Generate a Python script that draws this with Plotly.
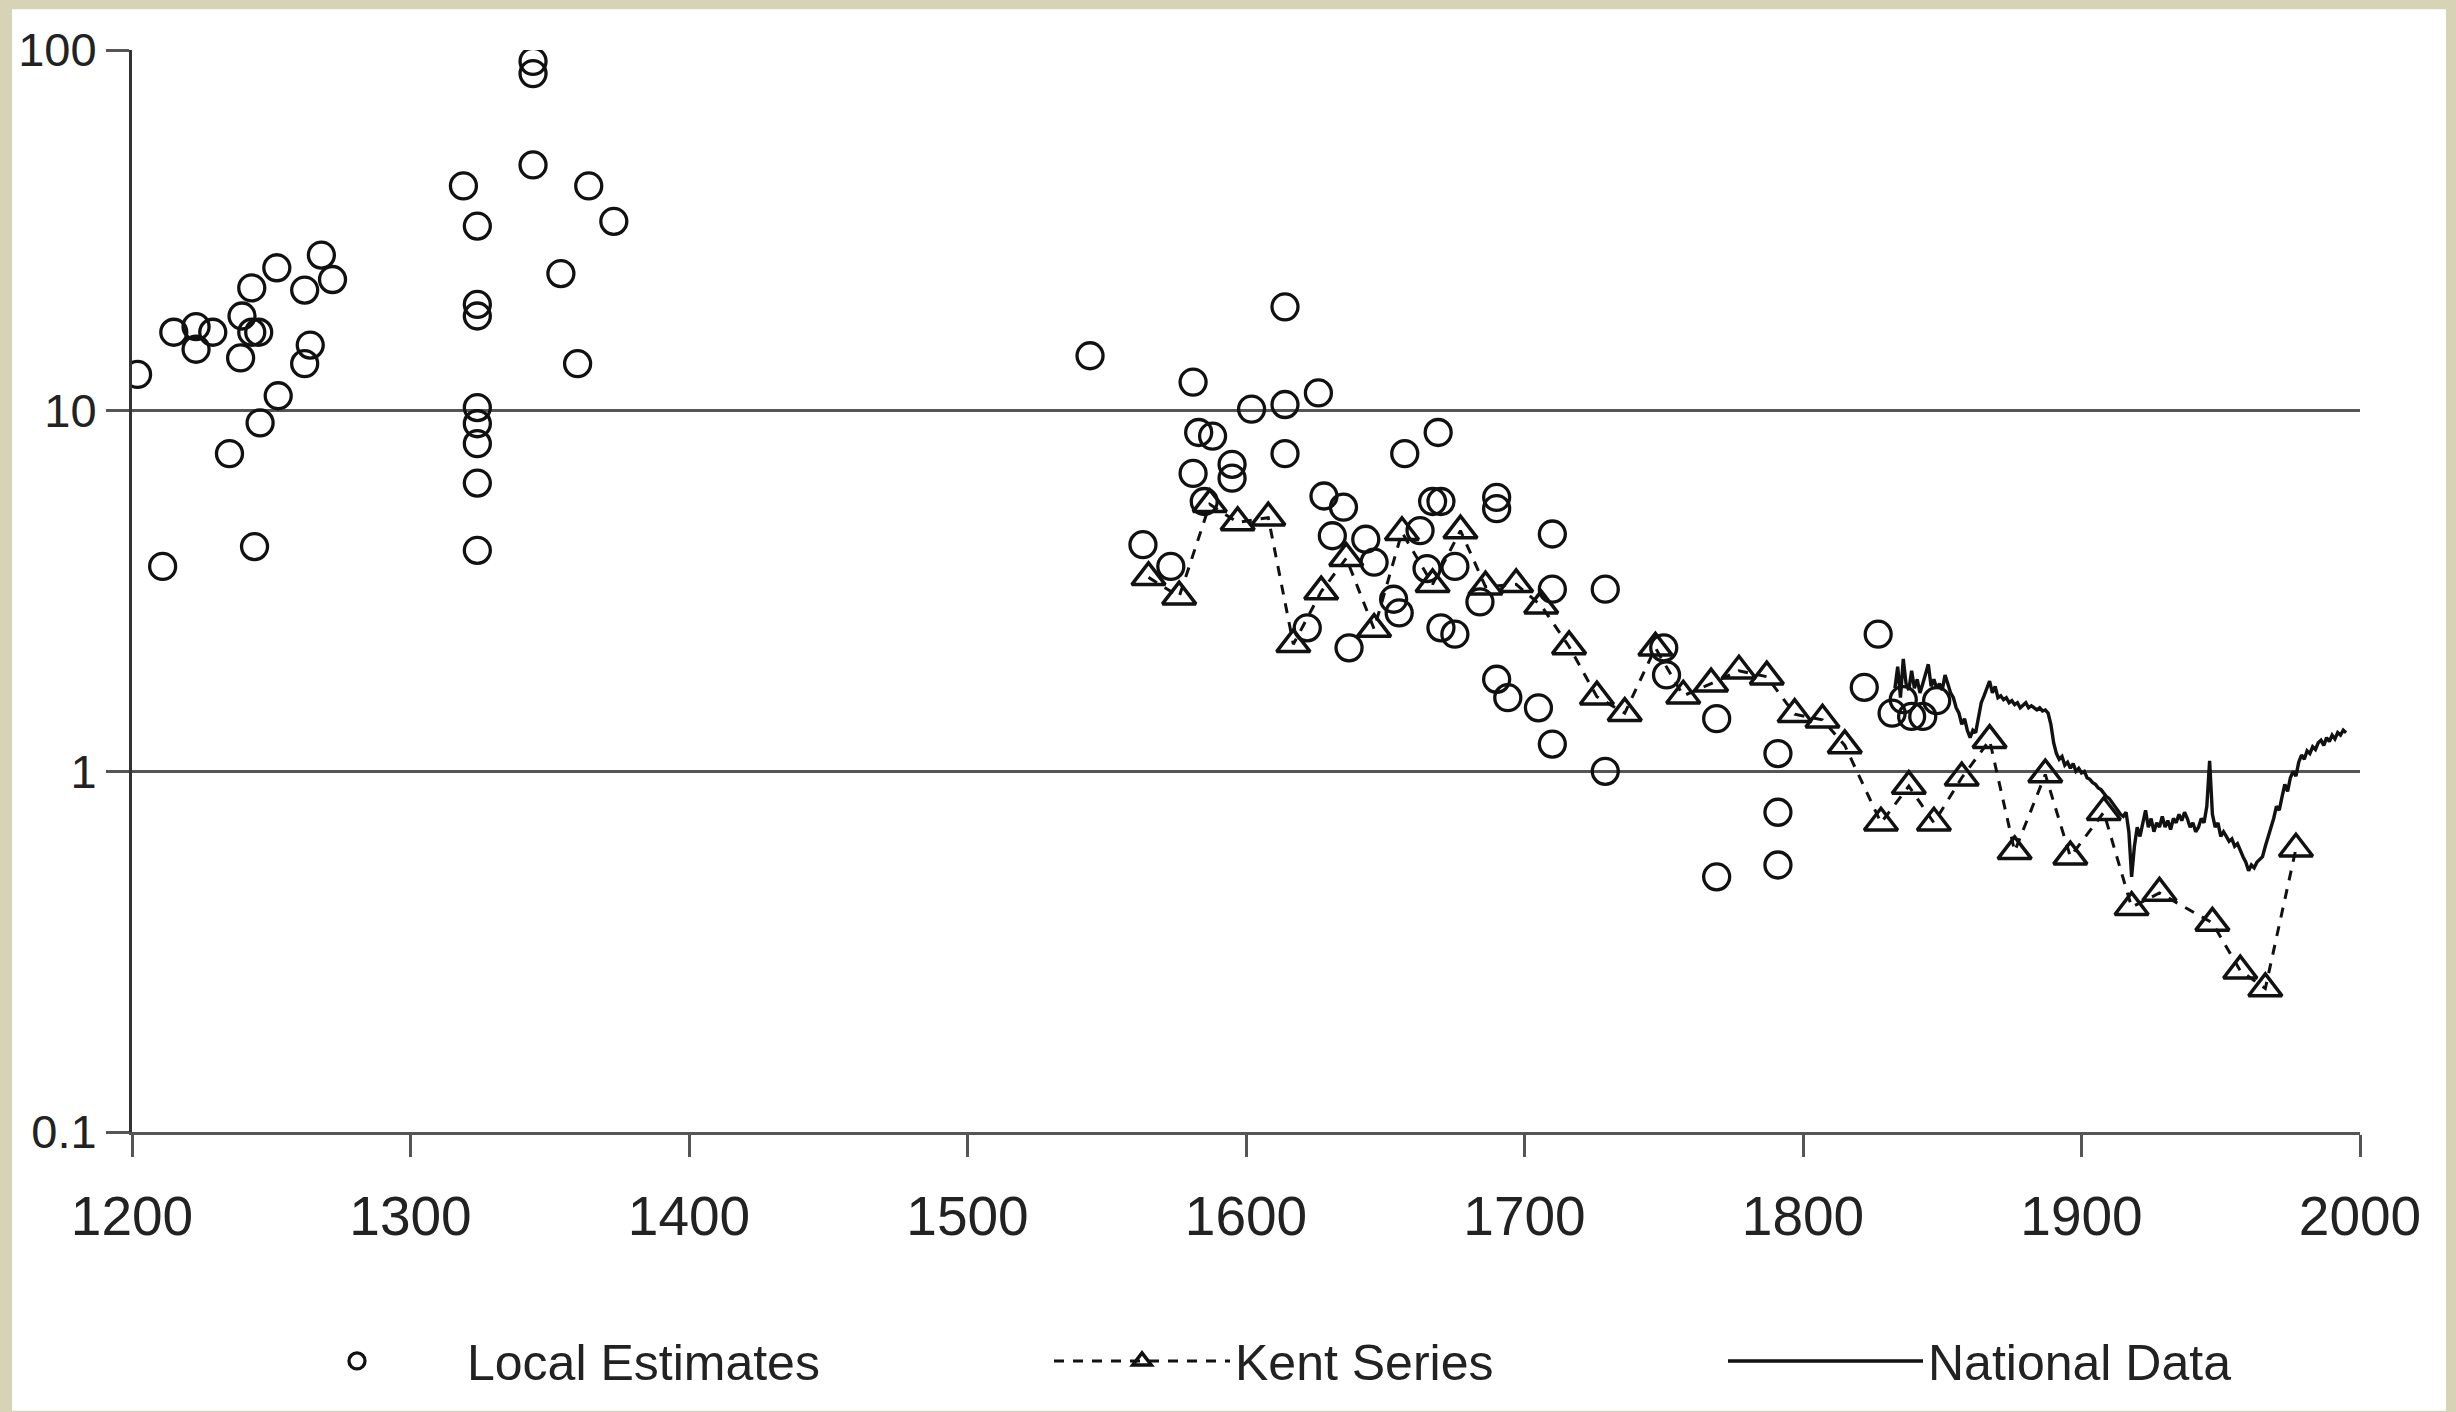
import plotly.graph_objects as go

# ---------------- data ----------------
local_years = [1202, 1211, 1215, 1223, 1223, 1229, 1235, 1239, 1239.5, 1243, 1243, 1245.5, 1244, 1246,
               1252.5, 1252, 1262, 1264, 1262, 1268, 1272,
               1319, 1324, 1324, 1324, 1324, 1324, 1324, 1324, 1324, 1344, 1344, 1344, 1354, 1360, 1364, 1373,
               1544, 1563, 1573, 1581, 1581, 1583, 1588, 1585, 1595, 1595, 1602, 1614, 1614, 1614, 1626,
               1628, 1635, 1631, 1622, 1637, 1643, 1646, 1653, 1655, 1657, 1662.5, 1665, 1667, 1669, 1670,
               1670, 1675, 1675, 1684, 1690, 1690, 1690, 1694, 1705, 1710, 1710, 1710, 1729, 1729, 1750,
               1751, 1769, 1769, 1791, 1791, 1791, 1822, 1827, 1832, 1836, 1839, 1843, 1848]
local_values = [12.6, 3.7, 16.5, 17.1, 14.8, 16.5, 7.6, 14.0, 18.3, 21.9, 16.5, 16.5, 4.2, 9.25,
                11.0, 24.9, 21.6, 15.2, 13.5, 27.0, 23.1,
                42, 32.5, 19.7, 18.3, 10.2, 9.2, 8.1, 6.3, 4.1, 93, 86, 48, 24, 13.5, 42, 33.5,
                14.2, 4.25, 3.7, 12.0, 6.7, 8.7, 8.5, 5.6, 7.1, 6.5, 10.1, 19.4, 10.4, 7.6, 11.2,
                5.8, 5.4, 4.5, 2.5, 2.2, 4.4, 3.8, 3.0, 2.75, 7.6, 4.65, 3.65, 5.6, 8.7, 5.6,
                2.5, 2.4, 3.7, 2.95, 5.75, 5.35, 1.8, 1.6, 1.5, 4.55, 3.2, 1.19, 3.2, 1.0, 2.2,
                1.85, 1.4, 0.51, 1.12, 0.77, 0.55, 1.71, 2.4, 1.45, 1.58, 1.42, 1.42, 1.57]

kent_years = [1565, 1576, 1587, 1597, 1608, 1617, 1627, 1636, 1646, 1656, 1667, 1677, 1686, 1697,
              1706, 1716, 1726, 1736, 1747, 1757, 1767, 1777, 1787, 1797, 1807, 1815, 1828, 1838,
              1847, 1857, 1867, 1876, 1887, 1896, 1908, 1918, 1928, 1947, 1957, 1966, 1977]
kent_values = [3.45, 3.05, 5.5, 4.9, 5.05, 2.25, 3.15, 3.9, 2.48, 4.6, 3.3, 4.65, 3.25, 3.3,
               2.88, 2.22, 1.61, 1.45, 2.2, 1.62, 1.75, 1.9, 1.83, 1.44, 1.39, 1.18, 0.72, 0.91,
               0.72, 0.96, 1.22, 0.6, 0.98, 0.58, 0.77, 0.42, 0.46, 0.38, 0.28, 0.25, 0.61]

national_years = list(range(1833, 1996))
national_values = [1.7, 1.95, 1.6, 2.05, 1.75, 1.68, 1.9, 1.7, 1.8, 1.65,
                   1.75, 1.85, 1.98, 1.72, 1.8, 1.7, 1.75, 1.68, 1.85, 1.75,
                   1.65, 1.6, 1.5, 1.45, 1.35, 1.4, 1.3, 1.24, 1.3, 1.28,
                   1.4, 1.55, 1.62, 1.7, 1.78, 1.65, 1.72, 1.6, 1.62, 1.58,
                   1.6, 1.55, 1.57, 1.53, 1.55, 1.5, 1.52, 1.55, 1.5, 1.52,
                   1.5, 1.48, 1.5, 1.47, 1.48, 1.45, 1.35, 1.2, 1.12, 1.08,
                   1.1, 1.04, 1.06, 1.02, 1.05, 1.0, 1.02, 0.99, 1.0, 0.96,
                   0.95, 0.93, 0.92, 0.9, 0.89, 0.87, 0.85, 0.84, 0.82, 0.8,
                   0.78, 0.76, 0.75, 0.77, 0.68, 0.51, 0.62, 0.7, 0.66, 0.72,
                   0.78, 0.7, 0.74, 0.68, 0.72, 0.7, 0.75, 0.7, 0.73, 0.69,
                   0.74, 0.72, 0.76, 0.73, 0.77, 0.74, 0.7, 0.72, 0.68, 0.7,
                   0.74, 0.72, 0.8, 1.07, 0.76, 0.7, 0.72, 0.66, 0.68, 0.66,
                   0.64, 0.65, 0.62, 0.63, 0.6, 0.58, 0.56, 0.53, 0.55, 0.54,
                   0.56, 0.57, 0.58, 0.62, 0.66, 0.69, 0.74, 0.8, 0.78, 0.85,
                   0.92, 0.88, 0.96, 1.0, 0.97, 1.06, 1.11, 1.08, 1.14, 1.12,
                   1.17, 1.15, 1.2, 1.22, 1.18, 1.24, 1.21, 1.26, 1.23, 1.28,
                   1.26, 1.3, 1.28]

x_ticks = [1200, 1300, 1400, 1500, 1600, 1700, 1800, 1900, 2000]
y_ticks = [0.1, 1, 10, 100]
y_tick_text = ["0.1", "1", "10", "100"]

# ---------------- figure ----------------
W, H = 2456, 1412
ML, MR, MT, MB = 132, 96, 50, 275
PW, PH = W - ML - MR, H - MT - MB

def px_x(p):
    return (p - ML) / PW

def px_y(p):
    return (H - MB - p) / PH

INK = "#111111"
FONT = "Liberation Sans, Arial, sans-serif"

fig = go.Figure()

fig.add_trace(go.Scatter(
    x=local_years, y=local_values, mode="markers", name="Local Estimates",
    marker=dict(symbol="circle-open", size=26, color=INK, line=dict(width=3.3)),
    legend="legend", showlegend=True,
))
fig.add_trace(go.Scatter(
    x=kent_years, y=kent_values, mode="lines+markers", name="Kent Series",
    line=dict(color=INK, width=3, dash="10px,9px"),
    marker=dict(symbol="triangle-up-open", size=29, color=INK, line=dict(width=3.5)),
    legend="legend2", showlegend=True,
))
fig.add_trace(go.Scatter(
    x=national_years, y=national_values, mode="lines", name="National Data",
    line=dict(color=INK, width=3.4),
    legend="legend3", showlegend=True,
))

legend_common = dict(orientation="h", yanchor="middle", xanchor="left",
                     bgcolor="rgba(0,0,0,0)", borderwidth=0,
                     font=dict(family=FONT, size=50, color="#222222"))

fig.update_layout(
    width=W, height=H,
    margin=dict(l=ML, r=MR, t=MT, b=MB),
    paper_bgcolor="#d6d3b7",
    plot_bgcolor="white",
    showlegend=True,
    font=dict(family=FONT, color="#222222"),
    legend=dict(x=px_x(247), y=px_y(1367), itemwidth=210, **legend_common),
    legend2=dict(x=px_x(1049), y=px_y(1367), itemwidth=176, **legend_common),
    legend3=dict(x=px_x(1723), y=px_y(1367), itemwidth=195, **legend_common),
    shapes=[dict(type="rect", xref="paper", yref="paper", layer="below",
                 x0=px_x(12), x1=px_x(2446), y0=px_y(H + 5), y1=px_y(9),
                 fillcolor="white", line=dict(width=0))],
)

fig.update_xaxes(
    range=[1200, 2000], tickvals=x_ticks, showgrid=False, zeroline=False,
    showline=True, linecolor="#555555", linewidth=3,
    ticks="outside", ticklen=22, tickwidth=2.5, tickcolor="#555555",
    ticklabelstandoff=12,
    tickfont=dict(family=FONT, size=55, color="#222222"),
)
fig.update_yaxes(
    type="log", range=[-1, 2], tickvals=y_ticks, ticktext=y_tick_text,
    showgrid=True, gridcolor="#555555", gridwidth=3,
    showline=True, linecolor="#333333", linewidth=3,
    ticks="outside", ticklen=23, tickwidth=3, tickcolor="#555555",
    ticklabelstandoff=0,
    tickfont=dict(family=FONT, size=47, color="#222222"),
)

fig.write_html("out.html")
